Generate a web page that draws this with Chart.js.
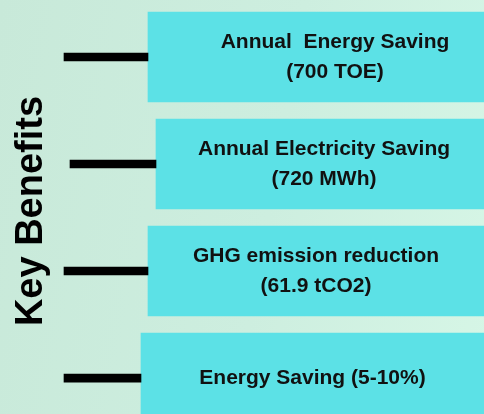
<!DOCTYPE html>
<html>
<head>
<meta charset="utf-8">
<script src="https://cdn.jsdelivr.net/npm/chart.js@4/dist/chart.umd.min.js"></script>
<style>
  html, body { margin: 0; padding: 0; }
  #wrap {
    width: 484px;
    height: 414px;
    background: linear-gradient(100deg, #c8e9d9 0%, #cdeedf 55%, #d6f6e6 100%);
  }
</style>
</head>
<body>
<div id="wrap"><canvas id="benefitsChart"></canvas></div>
<script>
const axisTitle = "Key Benefits";
const benefitTitles = [
  "Annual  Energy Saving",
  "Annual Electricity Saving",
  "GHG emission reduction",
  "Energy Saving (5-10%)"
];
const benefitValues = ["(700 TOE)", "(720 MWh)", "(61.9 tCO2)", ""];

// floating bar extents for the boxes and the black connectors
const boxStart = [148, 156, 148, 141];
const boxEnd = [522, 492, 484, 484];
const connectorStart = [64, 70, 64, 64];

const boxData = benefitTitles.map((t, i) => ({ x: [boxStart[i], boxEnd[i]], y: i }));
const connectorData = benefitTitles.map((t, i) => ({ x: [connectorStart[i], boxStart[i]], y: i }));

const FONT = "'Liberation Sans', Arial, sans-serif";

const boxText = {
  id: "boxText",
  afterDatasetsDraw(chart) {
    const ctx = chart.ctx;
    const meta = chart.getDatasetMeta(1);
    ctx.save();
    ctx.fillStyle = "#111";
    ctx.font = "bold 21px " + FONT;
    ctx.textAlign = "center";
    ctx.textBaseline = "middle";
    meta.data.forEach((bar, i) => {
      const cx = (bar.x + bar.base) / 2;
      if (benefitValues[i]) {
        ctx.fillText(benefitTitles[i], cx, bar.y - 15);
        ctx.fillText(benefitValues[i], cx, bar.y + 15);
      } else {
        ctx.fillText(benefitTitles[i], cx, bar.y);
      }
    });

    // rotated title on the left
    const area = chart.chartArea;
    ctx.font = "bold 38px " + FONT;
    ctx.fillStyle = "#000";
    ctx.textBaseline = "alphabetic";
    ctx.translate(area.left + 42, 211);
    ctx.rotate(-Math.PI / 2);
    ctx.fillText(axisTitle, 0, 0);
    ctx.restore();
  }
};

new Chart(document.getElementById("benefitsChart"), {
  type: "bar",
  data: {
    datasets: [
      {
        label: "connector",
        data: connectorData,
        backgroundColor: "#000",
        barThickness: 8,
        grouped: false
      },
      {
        label: "benefit",
        data: boxData,
        backgroundColor: "#5ce1e6",
        barThickness: 90,
        grouped: false
      }
    ]
  },
  options: {
    indexAxis: "y",
    responsive: true,
    maintainAspectRatio: false,
    animation: false,
    layout: { padding: 0 },
    plugins: {
      legend: { display: false },
      tooltip: { enabled: false }
    },
    scales: {
      x: {
        type: "linear",
        display: false,
        min: 0,
        max: 484
      },
      y: {
        type: "linear",
        display: false,
        offset: false,
        reverse: true,
        min: -0.533,
        max: 3.336
      }
    }
  },
  plugins: [boxText]
});
</script>
</body>
</html>
